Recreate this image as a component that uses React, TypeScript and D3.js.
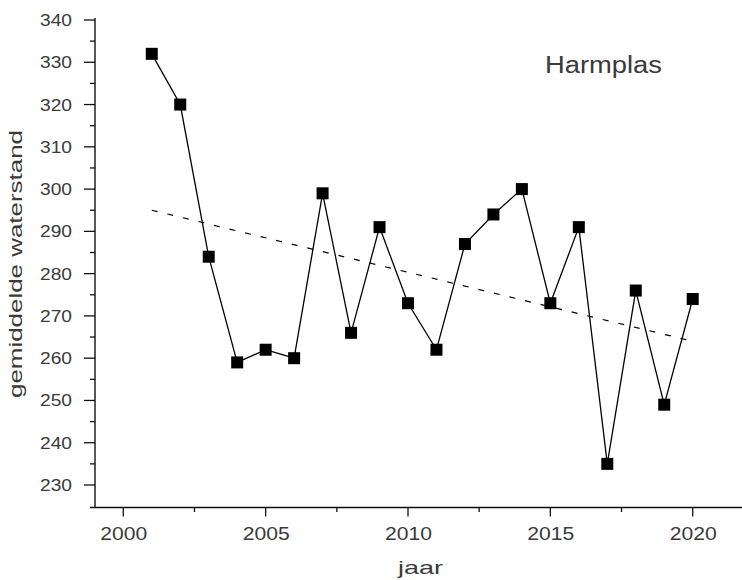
import React from "react";
import * as d3 from "d3";

const years = [2001,2002,2003,2004,2005,2006,2007,2008,2009,2010,2011,2012,2013,2014,2015,2016,2017,2018,2019,2020];
const values = [332,320,284,259,262,260,299,266,291,273,262,287,294,300,273,291,235,276,249,274];
const trendYears = [2001, 2020];
const trendValues = [295, 264];
const xTicks = [2000, 2005, 2010, 2015, 2020];
const xMinor = [2002.5, 2007.5, 2012.5, 2017.5];
const yTicks = [230,240,250,260,270,280,290,300,310,320,330,340];
const yMinor = [235,245,255,265,275,285,295,305,315,325,335];

const W = 742, H = 580;

export default function App() {
  const x = d3.scaleLinear().domain([2000, 2020]).range([123.3, 692.7]);
  const y = d3.scaleLinear().domain([230, 340]).range([485, 20]);
  const axisX = 95, axisY = 507.5;
  const line = d3.line<number>().x((_, i) => x(years[i])).y((v) => y(v));
  const tline = d3.line<number>().x((_, i) => x(trendYears[i])).y((v) => y(v));
  const font = "'Liberation Sans', Arial, sans-serif";
  const col = "#3a3a3a";
  return (
    <svg width={W} height={H} style={{ position: "absolute", left: 0, top: 0 }} fontFamily={font}>
      <rect width={W} height={H} fill="#fff" />
      <path d={tline(trendValues) || ""} fill="none" stroke="#000" strokeWidth={1.2} strokeDasharray="6,10" />
      <path d={line(values) || ""} fill="none" stroke="#000" strokeWidth={1.3} />
      {values.map((v, i) => (
        <rect key={i} x={x(years[i]) - 6} y={y(v) - 6} width={12} height={12} fill="#000" />
      ))}
      <line x1={axisX} x2={axisX} y1={18} y2={axisY} stroke="#111" strokeWidth={1.4} />
      <line x1={axisX - 5} x2={742} y1={axisY} y2={axisY} stroke="#111" strokeWidth={1.4} />
      {yTicks.map((t) => (
        <g key={t}>
          <line x1={axisX - 11} x2={axisX} y1={y(t)} y2={y(t)} stroke="#111" strokeWidth={1.3} />
          <text x={72} y={y(t) + 6} textAnchor="end" fontSize={17} fill={col} textLength={32} lengthAdjust="spacingAndGlyphs">{t}</text>
        </g>
      ))}
      {yMinor.map((t) => (
        <line key={t} x1={axisX - 5} x2={axisX} y1={y(t)} y2={y(t)} stroke="#111" strokeWidth={1.3} />
      ))}
      {xTicks.map((t) => (
        <g key={t}>
          <line x1={x(t)} x2={x(t)} y1={axisY} y2={axisY + 9} stroke="#111" strokeWidth={1.3} />
          <text x={x(t) - 23} y={540} fontSize={18} fill={col} textLength={47} lengthAdjust="spacingAndGlyphs">{t}</text>
        </g>
      ))}
      {xMinor.map((t) => (
        <line key={t} x1={x(t)} x2={x(t)} y1={axisY} y2={axisY + 4.5} stroke="#111" strokeWidth={1.3} />
      ))}
      <text x={398} y={574} fontSize={19} fill={col} textLength={45} lengthAdjust="spacingAndGlyphs">jaar</text>
      <text transform="translate(22,398) rotate(-90)" fontSize={18} fill={col} textLength={268} lengthAdjust="spacingAndGlyphs">gemiddelde waterstand</text>
      <text x={545} y={73} fontSize={23} fill={col} textLength={117} lengthAdjust="spacingAndGlyphs">Harmplas</text>
    </svg>
  );
}
